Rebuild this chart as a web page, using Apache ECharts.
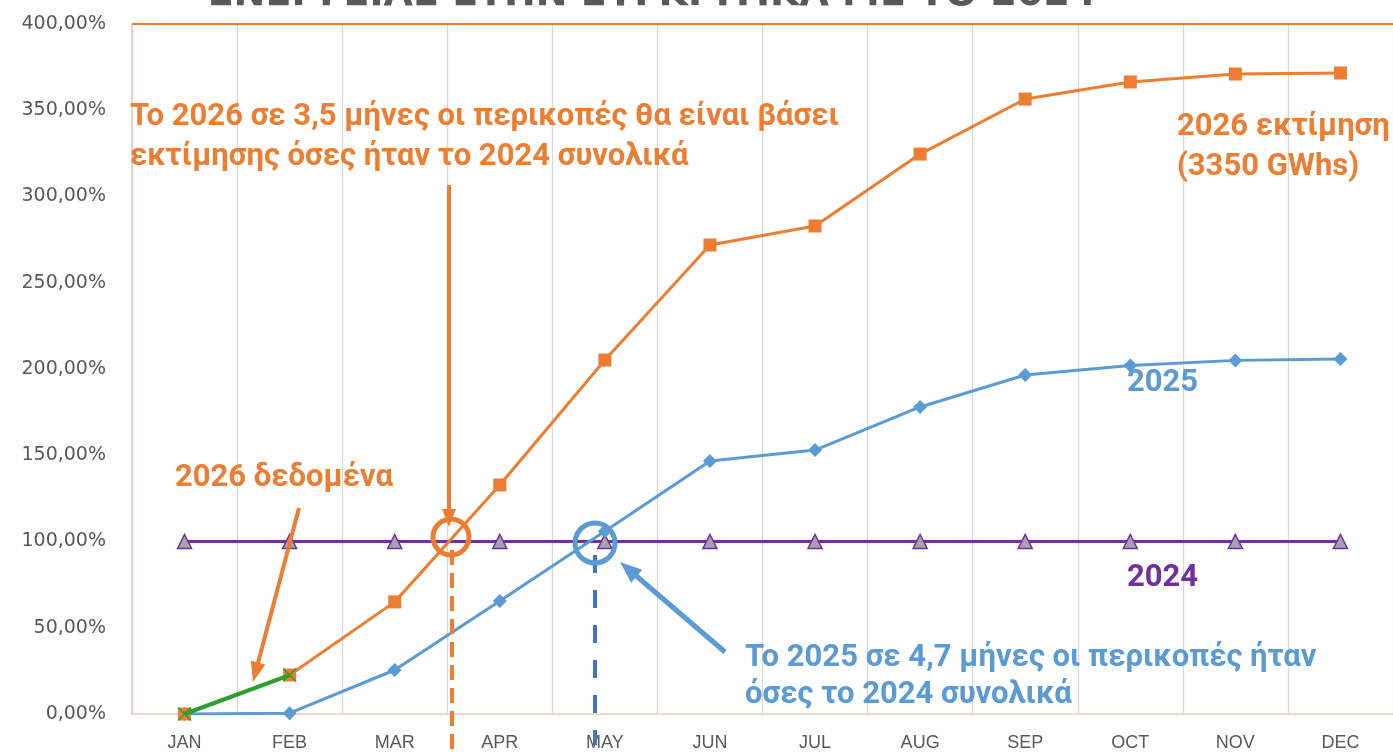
<!DOCTYPE html>
<html><head><meta charset="utf-8">
<script src="https://cdn.jsdelivr.net/npm/echarts@6/dist/echarts.min.js"></script>
<style>html,body{margin:0;padding:0;background:#fff}#c{width:1393px;height:755px}</style>
</head><body><div id="c"></div>
<script>
const months = ['JAN','FEB','MAR','APR','MAY','JUN','JUL','AUG','SEP','OCT','NOV','DEC'];
const yTicks = [0,50,100,150,200,250,300,350,400];
const s2024 = [100,100,100,100,100,100,100,100,100,100,100,100];
const s2025 = [0,0.5,25.5,65.5,106,146.7,153,178,196.5,202,205,205.8];
const s2026est = [0,22.6,65,132.8,205.2,271.9,282.9,324.6,356.5,366.4,371,371.6];
const s2026data = [0,22.6];

const ORANGE='#ed7d31', BLUE='#5b9bd5', PURPLE='#7030a0', GREEN='#2ca02c', DBLUE='#4472c4';
const AFONT='Roboto';
const FS=31;

function arrow(x1,y1,x2,y2,color,w,hl,hw){
  const dx=x2-x1, dy=y2-y1, L=Math.hypot(dx,dy), ux=dx/L, uy=dy/L;
  const bx=x2-ux*hl, by=y2-uy*hl, px=-uy, py=ux;
  return [
    {type:'line',z:50,shape:{x1:x1,y1:y1,x2:bx+ux*2,y2:by+uy*2},style:{stroke:color,lineWidth:w}},
    {type:'polygon',z:50,shape:{points:[[x2,y2],[bx+px*hw/2,by+py*hw/2],[bx-px*hw/2,by-py*hw/2]]},style:{fill:color}}
  ];
}
function txt(x,y,t,color,size,align){
  return {type:'text',z:60,x:x,y:y,style:{text:t,fill:color,font:'bold '+size+'px '+AFONT,textAlign:align||'left',textVerticalAlign:'middle'}};
}

const chart = echarts.init(document.getElementById('c'));
chart.setOption({
  animation:false,
  backgroundColor:'#fff',
  grid:{left:132,right:0,top:24,bottom:41},
  xAxis:{type:'category',data:months,boundaryGap:true,
    axisLine:{show:true,lineStyle:{color:'#f0c9b5',width:1.5}},
    axisTick:{show:false},
    axisLabel:{color:'#595959',fontSize:18,fontFamily:'Liberation Sans',margin:20},
    splitLine:{show:true,lineStyle:{color:'#d9d9d9',width:1.2}}},
  yAxis:{type:'value',min:yTicks[0],max:yTicks[yTicks.length-1],interval:50,
    axisLine:{show:true,lineStyle:{color:'#e2cbbd',width:1.5}},
    axisTick:{show:false},
    splitLine:{show:false},
    axisLabel:{color:'#595959',fontSize:19,fontFamily:'DejaVu Sans',margin:26,
      formatter:v=>v.toFixed(2).replace('.',',')+'%'}},
  series:[
    {name:'2024',type:'line',data:s2024,z:3,lineStyle:{color:PURPLE,width:3},
     symbol:'triangle',symbolSize:14,itemStyle:{color:'#a5a5a5',borderColor:PURPLE,borderWidth:1.5},
     markLine:{silent:true,symbol:'none',label:{show:false},lineStyle:{color:ORANGE,width:2,type:'solid'},data:[{yAxis:yTicks[yTicks.length-1]}]}},
    {name:'2025',type:'line',data:s2025,z:4,lineStyle:{color:BLUE,width:3},
     symbol:'diamond',symbolSize:14,itemStyle:{color:BLUE}},
    {name:'2026 εκτίμηση',type:'line',data:s2026est,z:5,lineStyle:{color:ORANGE,width:3},
     symbol:'rect',symbolSize:13,itemStyle:{color:ORANGE}},
    {name:'2026 δεδομένα',type:'line',data:s2026data,z:6,lineStyle:{color:GREEN,width:4},
     symbol:'path://M0,0L10,10M10,0L0,10',symbolSize:13,itemStyle:{color:'rgba(0,0,0,0)',borderColor:GREEN,borderWidth:1.5}}
  ],
  graphic:[
    {type:'text',z:60,x:652,y:-5,style:{text:'ΕΝΕΡΓΕΙΑΣ ΣΤΗΝ ΣΥΓΚΡΙΤΙΚΑ ΜΕ ΤΟ 2024',fill:'#595959',font:'bold 38px "DejaVu Sans"',textAlign:'center',textVerticalAlign:'middle'}},
    txt(130,117,'Το 2026 σε 3,5 μήνες οι περικοπές θα είναι βάσει',ORANGE,FS),
    txt(130,157,'εκτίμησης όσες ήταν το 2024 συνολικά',ORANGE,FS),
    txt(175,478,'2026 δεδομένα',ORANGE,FS),
    txt(1177,127,'2026 εκτίμηση',ORANGE,FS),
    txt(1177,167,'(3350 GWhs)',ORANGE,FS),
    txt(1127,383,'2025',BLUE,FS),
    txt(1127,578,'2024',PURPLE,FS),
    txt(745,658,'Το 2025 σε 4,7 μήνες οι περικοπές ήταν',BLUE,FS),
    txt(745,695,'όσες το 2024 συνολικά',BLUE,FS),
    ...arrow(449,185,449,527,ORANGE,4,18,14),
    ...arrow(299,508,253,682,ORANGE,4,20,15),
    ...arrow(725,652,620,562,BLUE,5,22,17),
    {type:'circle',z:55,shape:{cx:451,cy:537,r:18},style:{fill:'none',stroke:ORANGE,lineWidth:5}},
    {type:'circle',z:55,shape:{cx:595,cy:543,r:20},style:{fill:'none',stroke:BLUE,lineWidth:5}},
    {type:'line',z:50,shape:{x1:452,y1:550,x2:452,y2:755},style:{stroke:ORANGE,lineWidth:4,lineDash:[15,8]}},
    {type:'line',z:50,shape:{x1:595,y1:555,x2:595,y2:745},style:{stroke:DBLUE,lineWidth:4,lineDash:[18,17]}}
  ]
});
</script></body></html>
